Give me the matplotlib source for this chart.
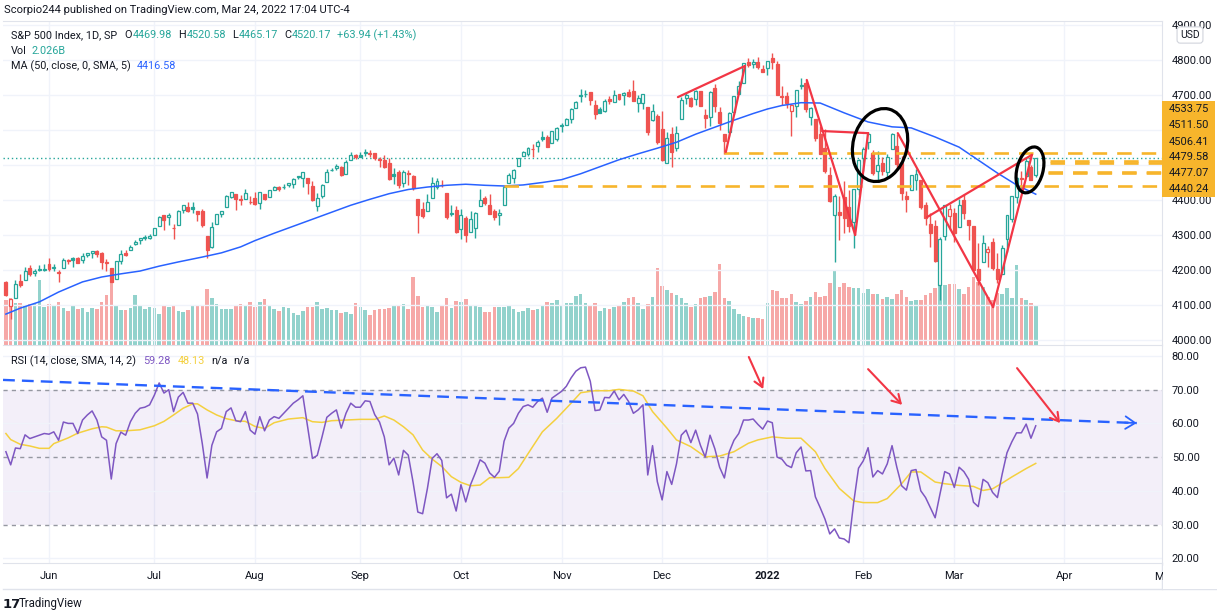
import matplotlib
matplotlib.use("Agg")
import matplotlib.pyplot as plt
from matplotlib.patches import Ellipse, Rectangle
from matplotlib.lines import Line2D
from matplotlib.transforms import ScaledTranslation
import numpy as np

plt.rcParams["font.family"] = ["Roboto", "DejaVu Sans"]

# S&P 500 daily bars, 18 May 2021 .. 24 Mar 2022 (one value per session, one row per month)
opens = [4165.9, 4098.5, 4121.0, 4168.6, 4170.2, 4205.9, 4191.6, 4201.9, 4201.0,
         4216.5, 4206.8, 4191.4, 4206.1, 4229.3, 4233.8, 4233.0, 4228.6, 4242.9, 4248.3, 4255.3, 4248.9, 4220.4, 4204.8, 4173.4, 4224.6, 4249.3, 4257.0, 4274.5, 4284.9, 4293.2, 4290.7,
         4300.7, 4326.6, 4356.5, 4351.0, 4321.1, 4329.4, 4372.4, 4381.1, 4380.1, 4369.0, 4367.4, 4296.4, 4265.1, 4331.1, 4361.3, 4381.2, 4409.6, 4416.4, 4403.0, 4403.6, 4395.1,
         4406.9, 4392.7, 4415.9, 4408.9, 4429.1, 4437.8, 4435.8, 4442.2, 4446.1, 4464.8, 4461.7, 4462.1, 4440.9, 4382.4, 4410.6, 4450.3, 4484.4, 4490.5, 4493.8, 4474.1, 4513.8, 4529.8,
         4528.8, 4534.5, 4532.4, 4535.4, 4518.1, 4513.0, 4506.9, 4474.8, 4479.3, 4447.5, 4477.1, 4469.7, 4402.9, 4374.5, 4367.4, 4406.8, 4438.0, 4442.1, 4419.5, 4362.4, 4370.7,
         4317.2, 4348.8, 4309.9, 4319.6, 4383.7, 4406.5, 4385.4, 4368.3, 4358.0, 4386.8, 4447.7, 4463.7, 4497.3, 4524.4, 4532.2, 4546.1, 4553.7, 4578.7, 4580.2, 4562.8, 4572.9,
         4610.6, 4613.3, 4630.7, 4662.9, 4699.3, 4701.5, 4707.3, 4670.3, 4659.4, 4655.2, 4689.3, 4679.4, 4701.5, 4700.7, 4708.4, 4712.0, 4678.5, 4675.8, 4664.6, 4628.8, 4640.2,
         4602.8, 4504.7, 4589.5, 4548.4, 4632.0, 4690.9, 4691.0, 4687.6, 4710.3, 4642.0, 4636.5, 4719.1, 4652.5, 4587.9, 4595.0, 4650.4, 4704.0, 4734.0, 4795.5, 4788.6, 4794.2, 4775.2,
         4778.1, 4804.5, 4788.0, 4693.4, 4697.7, 4655.3, 4669.1, 4728.6, 4733.6, 4638.0, 4632.2, 4588.0, 4547.4, 4471.4, 4356.3, 4366.6, 4408.4, 4380.6, 4336.2, 4431.8,
         4519.6, 4566.4, 4535.4, 4482.8, 4505.8, 4480.0, 4547.0, 4553.2, 4506.3, 4412.6, 4429.3, 4455.8, 4456.1, 4384.6, 4332.7, 4324.9, 4155.8, 4298.4, 4354.2,
         4363.1, 4322.6, 4401.3, 4342.1, 4327.0, 4202.7, 4223.1, 4252.6, 4279.5, 4202.8, 4188.8, 4288.1, 4345.1, 4407.3, 4462.4, 4469.1, 4493.1, 4469.98]
highs = [4169.1, 4116.9, 4172.8, 4188.7, 4209.5, 4213.4, 4202.6, 4213.4, 4218.4,
         4234.1, 4217.4, 4200.2, 4233.5, 4232.3, 4236.7, 4237.1, 4249.7, 4248.4, 4255.6, 4257.2, 4251.9, 4232.3, 4204.8, 4226.2, 4255.8, 4256.6, 4271.3, 4286.1, 4292.1, 4300.5, 4302.4,
         4320.7, 4355.4, 4356.5, 4361.9, 4330.9, 4371.6, 4386.7, 4393.7, 4393.4, 4369.0, 4375.1, 4296.4, 4336.8, 4359.7, 4369.9, 4415.2, 4422.7, 4416.4, 4415.5, 4430.0, 4412.3,
         4422.2, 4423.8, 4416.2, 4429.8, 4440.8, 4439.4, 4445.2, 4449.4, 4461.8, 4468.4, 4480.3, 4462.1, 4454.3, 4418.6, 4444.4, 4489.9, 4492.8, 4501.7, 4495.9, 4513.3, 4537.4, 4531.4,
         4537.1, 4545.9, 4541.5, 4535.4, 4521.8, 4529.9, 4520.5, 4492.0, 4485.7, 4486.9, 4485.9, 4471.5, 4402.9, 4394.9, 4416.8, 4465.4, 4463.1, 4457.3, 4419.5, 4385.6, 4382.6,
         4375.2, 4355.5, 4369.2, 4365.6, 4430.0, 4412.0, 4415.9, 4374.9, 4372.9, 4439.7, 4475.8, 4488.8, 4520.4, 4540.9, 4551.4, 4559.7, 4572.6, 4598.5, 4584.6, 4597.6, 4608.1,
         4620.3, 4635.2, 4663.5, 4683.0, 4718.5, 4714.9, 4708.5, 4684.9, 4664.6, 4688.5, 4697.4, 4714.9, 4701.5, 4708.8, 4717.8, 4743.8, 4699.4, 4702.9, 4664.6, 4672.9, 4646.0,
         4652.9, 4595.5, 4608.0, 4612.6, 4694.0, 4705.1, 4695.3, 4713.6, 4710.3, 4660.5, 4712.6, 4732.0, 4666.7, 4587.9, 4651.1, 4697.7, 4740.7, 4791.5, 4807.0, 4804.1, 4808.9, 4786.8,
         4796.6, 4818.6, 4797.7, 4725.0, 4708.0, 4673.0, 4714.1, 4749.0, 4744.1, 4665.1, 4632.2, 4611.6, 4602.1, 4494.5, 4417.4, 4411.0, 4453.2, 4428.7, 4432.7, 4516.9,
         4550.5, 4595.3, 4542.9, 4539.7, 4521.9, 4531.3, 4590.0, 4588.9, 4526.3, 4426.2, 4472.8, 4489.6, 4456.1, 4394.6, 4362.1, 4341.5, 4294.7, 4385.3, 4388.8,
         4378.5, 4401.5, 4416.8, 4342.1, 4327.0, 4276.9, 4299.4, 4268.3, 4291.0, 4247.6, 4271.1, 4358.0, 4412.7, 4465.4, 4481.8, 4522.0, 4501.1, 4520.58]
lows = [4125.0, 4061.4, 4121.0, 4151.7, 4170.2, 4182.5, 4184.1, 4197.8, 4198.0,
        4197.6, 4198.3, 4167.1, 4206.1, 4215.7, 4208.4, 4218.7, 4220.3, 4237.6, 4234.1, 4238.4, 4202.5, 4196.1, 4164.4, 4173.4, 4217.3, 4241.4, 4257.0, 4271.2, 4274.7, 4287.0, 4288.0,
        4300.7, 4326.6, 4314.4, 4329.8, 4289.4, 4329.4, 4364.0, 4366.9, 4362.4, 4340.7, 4322.5, 4233.1, 4262.1, 4331.1, 4350.1, 4381.2, 4405.5, 4372.5, 4387.0, 4403.6, 4389.9,
        4384.8, 4373.0, 4400.2, 4408.9, 4429.1, 4424.7, 4430.0, 4436.4, 4435.5, 4460.1, 4437.7, 4417.8, 4397.6, 4367.7, 4406.8, 4450.3, 4482.3, 4485.7, 4469.0, 4474.1, 4513.8, 4515.8,
        4522.0, 4524.7, 4521.9, 4513.0, 4493.9, 4492.1, 4457.7, 4445.7, 4435.5, 4438.4, 4443.8, 4427.8, 4305.9, 4348.0, 4367.4, 4406.8, 4430.3, 4436.2, 4346.3, 4355.1, 4306.2,
        4288.5, 4278.9, 4309.9, 4290.5, 4383.7, 4386.2, 4360.6, 4342.1, 4329.9, 4386.8, 4447.7, 4447.5, 4496.4, 4524.4, 4526.9, 4524.0, 4537.4, 4569.2, 4551.7, 4562.8, 4567.6,
        4595.1, 4613.3, 4621.2, 4662.6, 4681.3, 4694.4, 4670.9, 4630.9, 4648.3, 4650.6, 4672.9, 4679.4, 4684.4, 4672.8, 4694.2, 4682.2, 4652.7, 4659.9, 4585.4, 4625.3, 4560.0,
        4510.3, 4504.7, 4495.1, 4540.5, 4632.0, 4674.5, 4666.0, 4670.2, 4667.6, 4606.5, 4611.2, 4651.9, 4600.2, 4531.1, 4583.2, 4645.5, 4704.0, 4734.0, 4780.0, 4778.1, 4775.3, 4765.8,
        4758.2, 4774.3, 4699.4, 4671.3, 4662.7, 4582.2, 4638.3, 4716.1, 4650.3, 4614.8, 4568.7, 4530.2, 4478.0, 4395.3, 4222.6, 4287.1, 4304.8, 4309.5, 4264.0, 4414.0,
        4483.5, 4544.3, 4470.4, 4451.5, 4471.5, 4465.4, 4547.0, 4484.3, 4401.4, 4364.8, 4429.3, 4429.7, 4373.8, 4327.2, 4267.1, 4221.5, 4114.7, 4286.8, 4315.1,
        4279.5, 4322.6, 4345.6, 4285.0, 4199.9, 4157.9, 4223.1, 4209.8, 4200.5, 4161.7, 4187.9, 4252.0, 4335.7, 4390.6, 4424.3, 4469.1, 4455.8, 4465.17]
closes = [4127.8, 4115.7, 4159.1, 4155.9, 4197.1, 4188.1, 4196.0, 4200.9, 4204.1,
          4202.0, 4208.1, 4192.9, 4229.9, 4226.5, 4227.3, 4219.6, 4239.2, 4247.4, 4255.2, 4246.6, 4223.7, 4221.9, 4166.5, 4224.8, 4246.4, 4241.8, 4266.5, 4280.7, 4290.6, 4291.8, 4297.5,
          4319.9, 4352.3, 4343.5, 4358.1, 4320.8, 4369.6, 4384.6, 4369.2, 4374.3, 4360.0, 4327.2, 4258.5, 4323.1, 4358.7, 4367.5, 4411.8, 4422.3, 4401.5, 4400.6, 4419.2, 4395.3,
          4387.2, 4423.2, 4402.7, 4429.1, 4436.5, 4432.4, 4436.8, 4447.7, 4460.8, 4468.0, 4479.7, 4448.1, 4400.3, 4405.8, 4441.7, 4479.5, 4486.2, 4496.2, 4470.0, 4509.4, 4528.8, 4522.7,
          4524.1, 4537.0, 4535.4, 4520.0, 4514.1, 4493.3, 4458.6, 4468.7, 4443.1, 4480.7, 4473.8, 4433.0, 4357.7, 4354.2, 4395.6, 4449.0, 4455.5, 4443.1, 4352.6, 4359.5, 4307.5,
          4357.0, 4300.5, 4345.7, 4363.6, 4399.8, 4391.3, 4361.2, 4350.7, 4363.8, 4438.3, 4471.4, 4486.5, 4519.6, 4536.2, 4549.8, 4544.9, 4566.5, 4574.8, 4551.7, 4596.4, 4605.4,
          4613.7, 4630.7, 4660.6, 4680.1, 4697.5, 4701.7, 4685.3, 4646.7, 4649.3, 4682.9, 4682.8, 4700.9, 4688.7, 4704.5, 4698.0, 4682.9, 4690.7, 4701.5, 4594.6, 4655.3, 4567.0,
          4513.0, 4577.1, 4538.4, 4591.7, 4686.8, 4701.2, 4667.5, 4712.0, 4669.0, 4634.1, 4709.9, 4668.7, 4620.6, 4568.0, 4649.2, 4696.6, 4725.8, 4791.2, 4786.4, 4793.1, 4778.7, 4766.2,
          4796.6, 4793.5, 4700.6, 4696.1, 4677.0, 4670.3, 4713.1, 4726.4, 4659.0, 4662.9, 4577.1, 4532.8, 4482.7, 4397.9, 4410.1, 4356.5, 4349.9, 4326.5, 4431.9, 4515.6,
          4546.5, 4589.4, 4477.4, 4500.5, 4483.9, 4521.5, 4587.2, 4504.1, 4418.6, 4401.7, 4471.1, 4475.0, 4380.3, 4348.9, 4304.8, 4225.5, 4288.7, 4384.7, 4373.9,
          4306.3, 4386.5, 4363.5, 4328.9, 4201.1, 4170.7, 4277.9, 4259.5, 4204.3, 4173.1, 4262.5, 4357.9, 4411.7, 4463.1, 4461.2, 4511.6, 4456.2, 4520.17]
close_before_first = 4163.3

# volume, billions
volume = [2.28, 2.38, 2.13, 2.13, 1.98, 2.08, 2.08, 3.29, 1.92,
          2.08, 2.03, 2.18, 1.87, 1.72, 2.03, 1.82, 1.87, 1.67, 1.87, 1.82, 2.18, 2.53, 3.19, 1.98, 1.77, 1.77, 1.87, 2.53, 1.98, 1.82, 1.92,
          1.87, 1.57, 2.03, 1.92, 2.03, 1.72, 1.67, 1.77, 1.98, 1.98, 1.98, 2.84, 2.38, 2.08, 1.82, 1.82, 1.82, 2.03, 2.08, 1.98, 2.18,
          1.92, 2.18, 2.33, 1.98, 1.82, 1.72, 1.92, 1.87, 1.62, 1.52, 1.72, 1.92, 1.92, 2.18, 1.82, 1.87, 1.77, 1.77, 1.62, 1.67, 1.57, 2.13,
          1.92, 1.77, 1.52, 1.77, 1.82, 1.82, 1.87, 2.03, 1.98, 2.08, 1.82, 3.44, 2.48, 1.92, 1.98, 1.92, 1.67, 2.03, 2.38, 1.87, 2.23,
          2.18, 2.33, 2.03, 2.03, 1.92, 1.67, 1.67, 1.92, 1.92, 1.92, 2.03, 1.82, 1.67, 1.72, 1.87, 1.77, 1.82, 1.98, 2.18, 2.13, 2.28,
          1.98, 2.13, 2.13, 2.48, 2.58, 2.13, 2.03, 2.13, 1.72, 1.87, 1.82, 1.92, 2.03, 2.18, 2.38, 2.43, 2.13, 1.82, 2.08, 2.43, 3.90,
          2.99, 2.79, 2.63, 2.53, 2.38, 2.13, 1.92, 2.08, 2.38, 2.43, 2.48, 2.69, 4.10, 2.38, 2.23, 1.82, 1.57, 1.47, 1.42, 1.37, 1.37, 1.32,
          2.13, 2.79, 2.74, 2.38, 2.38, 2.58, 2.18, 2.08, 2.23, 2.43, 2.69, 2.43, 2.48, 3.14, 3.75, 2.94, 3.14, 2.94, 2.89, 2.89,
          2.63, 2.84, 2.58, 2.58, 2.33, 2.43, 2.33, 2.58, 2.79, 2.43, 2.23, 2.28, 2.28, 2.53, 2.63, 2.89, 3.14, 3.04, 3.09,
          3.09, 2.84, 2.58, 2.94, 3.44, 3.19, 2.94, 2.43, 2.28, 2.63, 2.58, 2.89, 2.38, 4.05, 2.38, 2.28, 2.13, 2.026]

# 50-day moving average (bar index, value)
ma_idx = [0, 3, 7, 11, 16, 20, 24, 28, 32, 36, 41, 45, 49, 52, 56, 60, 64, 68, 72, 76, 80, 84, 88, 92, 96, 100, 104,
          108, 112, 116, 120, 124, 128, 132, 136, 140, 144, 148, 152, 156, 159, 162, 166, 170, 175, 180, 185, 189, 194,
          199, 203, 207, 211, 215]
ma_val = [4074, 4091, 4109, 4137, 4166, 4180, 4189, 4197, 4211, 4223, 4237, 4249, 4266, 4284, 4305, 4325, 4345, 4365,
          4385, 4402, 4418, 4430, 4437, 4442, 4445, 4442, 4440, 4443, 4450, 4458, 4475, 4495, 4515, 4532, 4548, 4565,
          4588, 4608, 4628, 4647, 4660, 4670, 4678, 4677, 4649, 4623, 4609, 4606, 4580, 4551, 4514, 4477, 4443, 4416.58]

# RSI(14), one per bar
rsi = [51.6, 47.7, 52.7, 52.5, 56.6, 55.5, 56.0, 56.5, 57.0,
       56.8, 57.5, 55.0, 60.4, 60.0, 60.0, 57.0, 61.0, 62.5, 63.7, 61.0, 56.0, 55.0, 43.5, 54.0, 57.4, 56.5, 60.5, 63.0, 64.5, 64.8, 65.5,
       68.4, 72.0, 69.0, 70.0, 63.5, 67.8, 69.2, 66.0, 66.0, 62.8, 54.0, 43.8, 53.5, 57.5, 58.5, 63.5, 64.6, 60.8, 60.5, 63.5, 58.0,
       56.8, 62.0, 57.8, 61.0, 62.0, 61.5, 63.0, 64.5, 66.0, 67.0, 68.2, 59.0, 49.6, 50.5, 56.0, 61.8, 63.0, 64.0, 58.6, 63.0, 66.0, 64.8,
       64.8, 66.7, 66.5, 62.6, 60.4, 56.0, 47.7, 49.7, 44.7, 52.0, 50.6, 42.6, 33.7, 33.2, 40.7, 49.6, 51.0, 49.0, 37.9, 39.0, 34.0,
       41.8, 36.7, 41.8, 45.3, 49.2, 48.2, 45.3, 44.0, 45.8, 54.7, 58.6, 60.0, 63.0, 65.0, 65.5, 64.8, 66.5, 67.5, 63.3, 67.5, 68.5,
       69.5, 71.0, 73.5, 75.5, 76.5, 76.7, 72.5, 63.8, 64.0, 67.7, 67.6, 69.6, 67.0, 68.6, 66.5, 63.0, 64.0, 65.5, 44.7, 53.4, 42.7,
       37.3, 45.7, 41.9, 48.0, 56.5, 58.0, 54.3, 58.0, 53.5, 50.0, 56.5, 52.5, 47.0, 43.8, 51.5, 55.0, 57.0, 61.0, 61.0, 61.3, 59.7, 58.3,
       60.7, 60.2, 50.0, 49.4, 47.6, 46.9, 51.3, 53.0, 45.9, 46.0, 38.2, 35.0, 31.6, 27.2, 28.7, 26.0, 25.7, 24.6, 36.6, 46.7,
       48.9, 52.8, 44.1, 46.0, 45.0, 48.0, 53.4, 47.0, 41.5, 40.2, 46.0, 46.3, 40.0, 38.0, 35.0, 32.0, 39.0, 45.7, 45.0,
       41.0, 47.0, 45.7, 43.4, 36.6, 35.3, 43.4, 42.4, 39.5, 38.0, 45.0, 51.3, 54.5, 57.2, 57.2, 59.8, 55.6, 59.28]

# 14-bar SMA of the RSI (bar index, value)
rsi_ma_idx = [0, 1, 3, 5, 7, 9, 10, 13, 15, 18, 20, 21, 23, 25, 28, 31, 33, 35, 37, 39, 40, 42, 44, 46, 48, 50, 52,
              54, 56, 59, 62, 64, 66, 68, 71, 74, 77, 79, 81, 83, 85, 87, 89, 91, 93, 95, 97, 99, 101, 103, 105, 107,
              109, 112, 115, 118, 120, 123, 126, 128, 131, 133, 135, 138, 140, 143, 146, 149, 152, 155, 157, 160, 163,
              166, 169, 171, 174, 177, 179, 182, 184, 187, 189, 191, 194, 196, 199, 202, 204, 206, 208, 210, 213, 215]
rsi_ma = [57.0, 55.2, 53.8, 53.3, 52.6, 52.6, 54.0, 55.7, 57.1, 58.4, 59.0, 58.9, 57.8, 57.8, 58.1, 59.3, 60.6, 62.5,
          64.5, 65.8, 65.8, 64.0, 62.5, 61.4, 60.8, 60.6, 59.1, 58.5, 60.2, 61.3, 61.7, 60.5, 60.3, 60.8, 61.0, 61.2,
          61.2, 62.2, 61.0, 59.0, 56.6, 52.1, 49.4, 47.2, 44.2, 42.5, 41.5, 41.7, 43.9, 43.9, 44.0, 46.6, 51.0, 57.5,
          61.5, 66.0, 69.1, 69.7, 69.7, 70.1, 69.6, 68.2, 63.5, 58.6, 55.1, 53.1, 50.1, 50.3, 51.6, 54.1, 55.1, 56.0,
          55.6, 55.6, 51.6, 46.6, 40.7, 37.0, 36.5, 36.5, 37.7, 42.1, 45.6, 45.6, 42.6, 42.1, 41.6, 41.3, 40.1, 40.6,
          42.3, 44.1, 46.6, 48.13]

month_idx = [9, 31, 52, 74, 95, 116, 137, 159, 179, 198, 221]
month_lbl = ["Jun", "Jul", "Aug", "Sep", "Oct", "Nov", "Dec", "2022", "Feb", "Mar", "Apr"]
may_idx = 242

# horizontal levels drawn by the author: price, first bar
levels = [4533.75, 4511.50, 4506.41, 4479.58, 4477.07, 4440.24]
level_start = [150, 218, 218, 217.5, 217.5, 104]

# red trend lines drawn on price: (bar, price) -> (bar, price)
red_lines = [((140.3, 4694), (154.3, 4783)), ((150.3, 4537), (154.3, 4783)),
             ((167.2, 4743), (177.3, 4300)), ((170.4, 4597), (180.0, 4591)), ((177.3, 4300), (180.0, 4591)),
             ((186.2, 4591), (206.1, 4094)), ((192.3, 4351), (214.2, 4529)), ((206.1, 4094), (214.2, 4529))]
# red arrows in the RSI pane: start -> tip
rsi_arrows = [((155.1, 79.7), (158.1, 70.2)), ((180.0, 76.1), (187.1, 65.5)), ((211.1, 76.4), (220.1, 60.1))]
rsi_trend = ((-0.6, 72.9), (236.1, 60.1))

TEAL = "#26a69a"
RED = "#ef5350"
DARK = "#131722"
BLUE = "#2962ff"
PURPLE = "#7e57c2"
YELLOW = "#f4d03f"
ORANGE = "#f7b52c"
GRID = "#f0f3fa"
BORDER = "#e0e3eb"
DRAW_RED = "#f23645"

W, H = 1217, 612
fig = plt.figure(figsize=(W / 100, H / 100), dpi=100)
fig.patch.set_facecolor("white")


def rect(l, t, r, b):
    return [l / W, 1 - b / H, (r - l) / W, (b - t) / H]


ax = fig.add_axes(rect(3, 21, 1162, 345))
axv = ax.twinx()
ax.set_zorder(axv.get_zorder() + 1)
ax.patch.set_visible(False)
axr = fig.add_axes(rect(3, 345, 1162, 563))

xlim = (-0.605, 241.36)
o = np.array(opens)
h = np.array(highs)
l = np.array(lows)
c = np.array(closes)
x = np.arange(len(c))
prev = np.concatenate([[close_before_first], c[:-1]])
edge = np.where(c >= prev, TEAL, RED)
face = np.where(c > o, "white", edge)

# grid
for m in month_idx:
    ax.axvline(m, color=GRID, lw=1, zorder=0)
    axr.axvline(m, color=GRID, lw=1, zorder=0)
for p in range(4000, 5000, 100):
    ax.axhline(p, color=GRID, lw=1, zorder=0)

# volume
axv.bar(x, volume, width=0.74, color=edge, alpha=0.5, lw=0)
axv.set_ylim(0, 16.41)
axv.set_xlim(*xlim)
axv.set_yticks([])
for s in axv.spines.values():
    s.set_visible(False)

# candles (hollow style)
ax.vlines(x, l, h, colors=edge, lw=1, zorder=3)
ax.bar(x, np.abs(c - o), bottom=np.minimum(o, c), width=0.62, color=face, edgecolor=edge, linewidth=0.9, zorder=4)

ax.plot(ma_idx, ma_val, color=BLUE, lw=1.1, zorder=5)
ax.axhline(c[-1], color=TEAL, lw=1, ls=(0, (1, 2)), zorder=2)

for p, s in zip(levels, level_start):
    ax.hlines(p, s, xlim[1], color=ORANGE, lw=1.9, linestyles=(0, (5.5, 3.8)), zorder=6)

for (a, b) in red_lines:
    ax.plot([a[0], b[0]], [a[1], b[1]], color=DRAW_RED, lw=1.6, zorder=7, solid_capstyle="round")


def ring(i, p, w, hh, ang):
    tr = fig.dpi_scale_trans + ScaledTranslation(i, p, ax.transData)
    ax.add_patch(Ellipse((0, 0), w / 100, hh / 100, angle=ang, transform=tr,
                         fill=False, ec="black", lw=2.3, zorder=8))


ax.set_xlim(*xlim)
ax.set_ylim(3985.7, 4911.4)
ring(182.5, 4557, 54, 74, -14)
ring(213.8, 4486, 26, 47, -15)

# price scale; the 4500 / 4600 marks sit under the level labels
ptick = list(range(4000, 5000, 100))
ax.yaxis.tick_right()
ax.set_yticks(ptick)
ax.set_yticklabels(["" if p in (4500, 4600) else f"{p:.2f}" for p in ptick])
ax.tick_params(axis="y", length=0, pad=7, labelsize=8, labelcolor=DARK)
ax.set_xticks([])
for k, s in ax.spines.items():
    s.set_color(BORDER)
ax.spines["left"].set_visible(False)

# RSI pane
axr.set_xlim(*xlim)
axr.set_ylim(18.58, 83.26)
axr.fill_between(xlim, 30, 70, color=PURPLE, alpha=0.09, lw=0, zorder=0)
for v in (20, 40, 60, 80):
    axr.axhline(v, color=GRID, lw=1, zorder=0)
for v in (30, 50, 70):
    axr.axhline(v, color="#9598a1", lw=1, ls=(0, (3, 3)), zorder=1)
axr.plot(x, rsi, color=PURPLE, lw=1.1, zorder=3)
axr.plot(rsi_ma_idx, rsi_ma, color=YELLOW, lw=1.1, zorder=2)

(t0, t1) = rsi_trend
axr.plot([t0[0], t1[0]], [t0[1], t1[1]], color=BLUE, lw=1.7, ls=(0, (5, 3)), zorder=4)
axr.annotate("", xy=t1, xytext=(t1[0] - 2.5, t1[1] + 0.14),
             arrowprops=dict(arrowstyle="->,head_length=0.7,head_width=0.45", color=BLUE, lw=1.3,
                             shrinkA=0, shrinkB=0), zorder=4)
for (a, b) in rsi_arrows:
    axr.annotate("", xy=b, xytext=a,
                 arrowprops=dict(arrowstyle="->,head_length=0.6,head_width=0.35", color=DRAW_RED, lw=1.5,
                                 shrinkA=0, shrinkB=0), zorder=5)

axr.yaxis.tick_right()
axr.set_yticks(range(20, 90, 10))
axr.set_yticklabels([f"{v:.2f}" for v in range(20, 90, 10)])
axr.tick_params(axis="y", length=0, pad=7, labelsize=8, labelcolor=DARK)
axr.set_xticks(month_idx)
axr.set_xticklabels(month_lbl)
axr.tick_params(axis="x", length=0, pad=6, labelsize=8, labelcolor=DARK)
axr.get_xticklabels()[7].set_fontweight("bold")
for k, s in axr.spines.items():
    s.set_color(BORDER)
axr.spines["left"].set_visible(False)
axr.spines["top"].set_visible(False)

# "May" label, cut by the price scale
xm = axr.transData.transform((may_idx, 0))[0]
fig.text(xm / W, 1 - 577 / H, "May", fontsize=8, color=DARK, ha="center", va="center")
fig.add_artist(Rectangle((1163 / W, 1 - 589 / H), 54 / W, 23 / H, transform=fig.transFigure,
                         fc="white", ec="none", zorder=5))
fig.add_artist(Line2D([3 / W, 1217 / W], [1 - 589 / H] * 2, color=BORDER, lw=1))
fig.add_artist(Line2D([1162 / W] * 2, [1 - 589 / H, 1 - 563 / H], color=BORDER, lw=1))

# right-side level labels
fig.add_artist(Rectangle((1162 / W, 1 - 197 / H), 53 / W, 96 / H, transform=fig.transFigure,
                         fc=ORANGE, ec="none", zorder=2))
for k, p in enumerate(levels):
    fig.text(1169 / W, 1 - (109.5 + 16 * k) / H, f"{p:.2f}", fontsize=8, color=DARK, va="center", zorder=6)
fig.text(1190 / W, 1 - 35 / H, "USD", fontsize=7.5, color=DARK, ha="center", va="center",
         bbox=dict(boxstyle="round,pad=0.3,rounding_size=0.3", fc="white", ec="#d1d4dc", lw=0.8))

# header + legends
fig.text(4 / W, 1 - 10 / H, "Scorpio244 published on TradingView.com, Mar 24, 2022 17:04 UTC-4",
         fontsize=8, color=DARK, va="center")


def chain(x0, y0, parts, size=7.8):
    r = fig.canvas.get_renderer()
    for s, col, gap in parts:
        t = fig.text(x0 / W, 1 - y0 / H, s, color=col, fontsize=size, va="center", ha="left")
        x0 += t.get_window_extent(r).width + gap


chain(11, 35, [("S&P 500 Index, 1D, SP", DARK, 7), ("O", DARK, 1), ("4469.98", TEAL, 6),
               ("H", DARK, 1), ("4520.58", TEAL, 6), ("L", DARK, 1), ("4465.17", TEAL, 6),
               ("C", DARK, 1), ("4520.17", TEAL, 5), ("+63.94 (+1.43%)", TEAL, 0)])
chain(11, 51, [("Vol", DARK, 5), ("2.026B", TEAL, 0)])
chain(11, 66, [("MA (50, close, 0, SMA, 5)", DARK, 6), ("4416.58", BLUE, 0)])
chain(11, 361, [("RSI (14, close, SMA, 14, 2)", DARK, 7), ("59.28", PURPLE, 7), ("48.13", YELLOW, 7),
                ("n/a", DARK, 5), ("n/a", DARK, 0)])

fig.text(3 / W, 1 - 604 / H, "17", fontsize=9.5, fontweight="heavy", color=DARK, va="center",
         family="DejaVu Sans")
fig.text(19 / W, 1 - 604 / H, "TradingView", fontsize=8.3, color=DARK, va="center")

fig.savefig("out.png", dpi=100)
